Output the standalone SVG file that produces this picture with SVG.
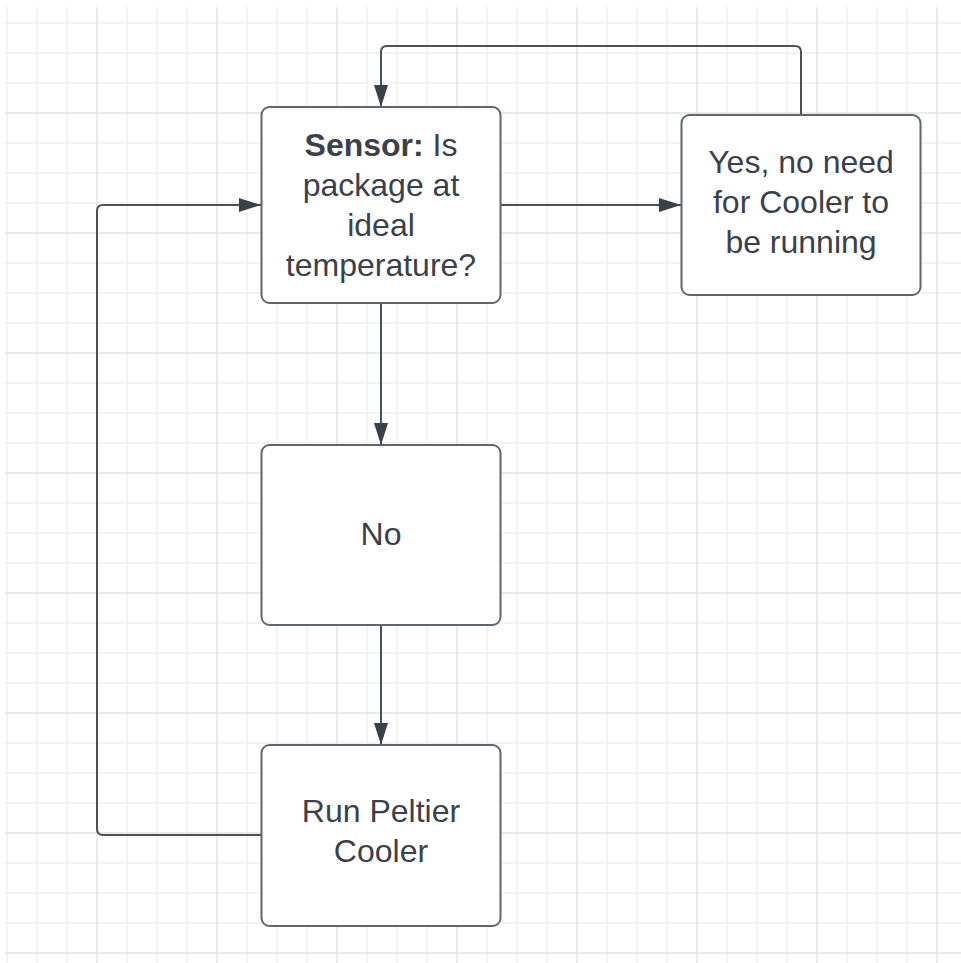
<svg xmlns="http://www.w3.org/2000/svg" width="961" height="963" viewBox="0 0 961 963">
<defs>
<style>
.minor{stroke:#f0f0f0;stroke-width:1.5}
.major{stroke:#e3e3e3;stroke-width:1.5}
.box{fill:#ffffff;stroke:#5e6670;stroke-width:2}
.lbl{font-family:"Liberation Sans",Arial,sans-serif;font-size:32px;fill:#3a414a;text-anchor:middle}
.conn{fill:none;stroke:#4a515a;stroke-width:2}
</style>
<marker id="arr" viewBox="0 0 22 14" refX="22" refY="7" markerWidth="22" markerHeight="14" markerUnits="userSpaceOnUse" orient="auto">
<path d="M0,0 L22,7 L0,14 Z" fill="#3a414a"/>
</marker>
<pattern id="gridp" x="7" y="23" width="120" height="120" patternUnits="userSpaceOnUse">
<path class="minor" d="M0,0 V120 M30,0 V120 M60,0 V120 M0,0 H120 M0,30 H120 M0,60 H120 M0,120 H120 M120,0 V120"/>
<path class="major" d="M90,0 V120 M0,90 H120"/>
</pattern>
</defs>
<rect width="961" height="963" fill="#ffffff"/>
<rect x="5" y="7" width="956" height="956" fill="url(#gridp)"/>
<g id="connectors">
<path class="conn" d="M801,115 V52 Q801,46 795,46 H387 Q381,46 381,52 V107" marker-end="url(#arr)"/>
<path class="conn" d="M500,205 H681" marker-end="url(#arr)"/>
<path class="conn" d="M381,303 V445" marker-end="url(#arr)"/>
<path class="conn" d="M381,625 V745" marker-end="url(#arr)"/>
<path class="conn" d="M261,835 H103 Q97,835 97,829 V211 Q97,205 103,205 H261" marker-end="url(#arr)"/>
</g>
<g id="node-sensor">
<rect class="box" x="261.5" y="107" width="239" height="196" rx="8"/>
<text class="lbl" x="381" y="156"><tspan font-weight="bold">Sensor:</tspan> Is</text>
<text class="lbl" x="381" y="196">package at</text>
<text class="lbl" x="381" y="236">ideal</text>
<text class="lbl" x="381" y="276">temperature?</text>
</g>
<g id="node-yes">
<rect class="box" x="681.5" y="115" width="239" height="180" rx="8"/>
<text class="lbl" x="801" y="173">Yes, no need</text>
<text class="lbl" x="801" y="213">for Cooler to</text>
<text class="lbl" x="801" y="253">be running</text>
</g>
<g id="node-no">
<rect class="box" x="261.5" y="445" width="239" height="180" rx="8"/>
<text class="lbl" x="381" y="545">No</text>
</g>
<g id="node-run">
<rect class="box" x="261.5" y="745" width="239" height="181" rx="8"/>
<text class="lbl" x="381" y="822">Run Peltier</text>
<text class="lbl" x="381" y="862">Cooler</text>
</g>
</svg>
